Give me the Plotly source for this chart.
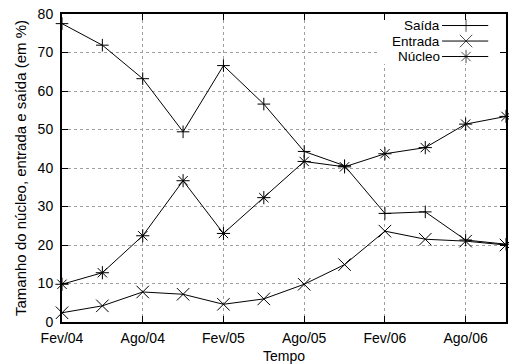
import plotly.graph_objects as go

# months since Fev/04
months = [0, 3, 6, 9, 12, 15, 18, 21, 24, 27, 30, 33]
tick_months = [0, 6, 12, 18, 24, 30]
tick_labels = ["Fev/04", "Ago/04", "Fev/05", "Ago/05", "Fev/06", "Ago/06"]

saida = [77.5, 71.9, 63.2, 49.4, 66.6, 56.6, 44.3, 40.6, 28.2, 28.6, 21.3, 20.2]
entrada = [2.4, 4.2, 7.8, 7.2, 4.6, 6.0, 9.8, 14.9, 23.6, 21.5, 21.0, 20.0]
nucleo = [9.8, 12.8, 22.4, 36.7, 23.0, 32.3, 41.7, 40.3, 43.7, 45.3, 51.4, 53.4]

series_names = ["Saída", "Entrada", "Núcleo"]
series_values = [saida, entrada, nucleo]
symbols = ["cross-thin-open", "x-thin-open", "asterisk-open"]
sizes = [9, 12.5, 11]

FONT = "Liberation Sans, Arial, sans-serif"
FS = 14

fig = go.Figure()
for name, vals, sym, sz in zip(series_names, series_values, symbols, sizes):
    fig.add_trace(go.Scatter(
        x=months, y=vals, mode="lines+markers", name=name,
        line=dict(color="black", width=1),
        marker=dict(symbol=sym, size=sz, color="black",
                    line=dict(color="black", width=1)),
        showlegend=False, cliponaxis=False,
    ))

# custom gnuplot-style legend (sample to the right of the text)
leg_rows = [0.9626, 0.9122, 0.8619]
for name, sym, sz, yy in zip(series_names, symbols, sizes, leg_rows):
    fig.add_trace(go.Scatter(
        x=[0.856, 0.910, 0.960], y=[yy, yy, yy], xaxis="x2", yaxis="y2",
        mode="lines+markers", showlegend=False, hoverinfo="skip",
        line=dict(color="black", width=1),
        marker=dict(symbol=sym, size=[0, sz, 0], color="black",
                    line=dict(color="black", width=1)),
    ))
    fig.add_annotation(x=0.849, y=yy, xref="paper", yref="paper",
                       text=name, showarrow=False, xanchor="right",
                       yanchor="middle", xshift=2, borderpad=0,
                       font=dict(family=FONT, size=13.5, color="black"))

fig.add_shape(type="rect", xref="x", yref="y", x0=23.5, x1=32.6, y0=67.0, y1=80,
              fillcolor="white", line=dict(width=0), layer="between")

axis_common = dict(
    showline=True, linecolor="black", linewidth=2, mirror="ticks",
    ticks="inside", ticklen=6, tickcolor="black", tickwidth=1,
    showgrid=True, gridcolor="#a0a0a0", griddash="dot", gridwidth=1,
    zeroline=False, tickfont=dict(family=FONT, size=FS, color="black"),
)

fig.update_layout(
    width=509, height=364,
    margin=dict(l=62, r=1, t=14, b=42),
    paper_bgcolor="white", plot_bgcolor="white",
    font=dict(family=FONT, size=FS, color="black"),
    xaxis=dict(range=[0, 33], tickvals=tick_months, ticktext=tick_labels,
               ticklabelstandoff=2, automargin=False,
               title=dict(text="Tempo", standoff=10, font=dict(family=FONT, size=FS)),
               **axis_common),
    yaxis=dict(range=[0, 80], dtick=10, ticklabelstandoff=4,
               title=dict(text="Tamanho do núcleo, entrada e saída (em %)", standoff=7,
                          font=dict(family=FONT, size=15)),
               **axis_common),
    xaxis2=dict(overlaying="x", range=[0, 1], visible=False),
    yaxis2=dict(overlaying="y", range=[0, 1], visible=False),
)

fig.write_html("out.html")
